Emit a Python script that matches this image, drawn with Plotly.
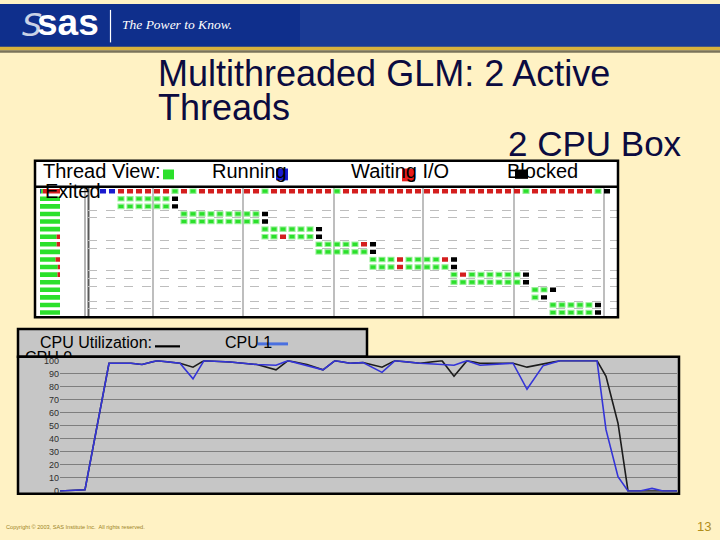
import plotly.graph_objects as go

W, H = 720, 540
FONT = "Liberation Sans, Arial, sans-serif"

# ---------------- data ----------------
# Thread view: one string of state codes per thread, one code per time slot,
# beginning at the slot given in thread_start.
# G = Running, B = Waiting I/O, R = Blocked, K = Exited
thread_start = [0, 2, 2, 9, 9, 18, 18, 24, 24, 30, 30, 39, 39, 48, 48, 50, 50]
thread_states = [
    "BB" "RRRRRR" "G" "R" "G" "RRRRRRR" "G" "RRRRRRR" "G"
    "RRRRRRRRRRRRRRRRRRRR" "G" "RRRRRRR" "G" "K",
    "GGGGGGK",
    "GGGGGGK",
    "GGGGGGGGGK",
    "GGGGGGGGGK",
    "GGGGGGK",
    "GGRGGGK",
    "GGGGGRK",
    "GGGGGGK",
    "GGGRGGGGRK",
    "GGGRGGGGGK",
    "GRGGGGGGK",
    "GGGGGGGGK",
    "GGK",
    "GK",
    "GGGGGK",
    "GGGGGK",
]
state_names = {"G": "Running", "B": "Waiting I/O", "R": "Blocked", "K": "Exited"}
state_colors = {"G": "#2BE02B", "B": "#1A1ACF", "R": "#D41E1E", "K": "#000000"}

# CPU utilization (%) over elapsed time
cpu_time = [0, 25, 49, 71, 82, 97, 120, 133, 144, 170, 197, 216, 228, 247, 263, 275,
            290, 303, 322, 335, 360, 382, 394, 407, 420, 453, 467, 483, 500, 537,
            546, 558, 568, 580, 592, 603, 617]
cpu0 = [0, 1, 98, 98, 97, 100, 98, 95, 100, 99, 97, 93, 100, 97, 93, 100, 98, 98.5,
        95, 100, 98, 100, 88, 100, 98, 98, 95, 97.5, 100, 100, 88, 52, 0, 0, 0, 0, 0]
cpu1 = [0, 1, 98, 98, 97, 100, 98, 86, 100, 99, 97, 96.5, 100, 96, 93, 100, 98, 98.5,
        91, 100, 98, 97, 96.5, 100, 96.5, 98, 78, 96, 100, 100, 47, 11, 0, 0, 2, 0, 0]
cpu_ticks = [0, 10, 20, 30, 40, 50, 60, 70, 80, 90, 100]

title_lines = ["Multithreaded GLM: 2 Active", "Threads"]
subtitle = "2 CPU Box"


def fx(x):
    return x / W


def fy(y):
    return 1 - y / H


fig = go.Figure()

# ---------------- thread view marks ----------------
mark_len = 0.67
for code in ["G", "R", "B", "K"]:
    rows, slots = [], []
    for r, (s0, st) in enumerate(zip(thread_start, thread_states)):
        for i, c in enumerate(st):
            if c == code:
                rows.append(r)
                slots.append(s0 + i)
    line = dict(color="rgba(150,240,150,0.85)", width=1.2) if code == "G" else dict(width=0)
    fig.add_trace(go.Bar(
        orientation="h", y=rows, x=[mark_len] * len(rows),
        base=[s - mark_len / 2 for s in slots], width=0.58,
        marker=dict(color=state_colors[code], line=line),
        name=state_names[code], showlegend=False, hoverinfo="skip",
        xaxis="x", yaxis="y"))

# ---------------- summary bars (left panel) ----------------
order = ["B", "G", "R"]
fracs = {c: [] for c in order}
for st in thread_states:
    total = sum(st.count(c) for c in order)
    for c in order:
        fracs[c].append(st.count(c) / total)
cum = [0.0] * len(thread_states)
for c in order:
    fig.add_trace(go.Bar(
        orientation="h", y=list(range(len(thread_states))), x=fracs[c], base=cum[:],
        width=0.6, marker=dict(color=state_colors[c], line=dict(width=0)),
        showlegend=False, hoverinfo="skip", xaxis="x3", yaxis="y3"))
    cum = [a + b for a, b in zip(cum, fracs[c])]

# ---------------- CPU utilization ----------------
fig.add_trace(go.Scatter(x=cpu_time, y=cpu0, mode="lines", name="CPU 0",
                         line=dict(color="#1C1C1C", width=1.6),
                         showlegend=False, xaxis="x2", yaxis="y2"))
fig.add_trace(go.Scatter(x=cpu_time, y=cpu1, mode="lines", name="CPU 1",
                         line=dict(color="#3434D8", width=1.6),
                         showlegend=False, xaxis="x2", yaxis="y2"))

# wrapped legend label, clipped where the chart frame starts
fig.add_trace(go.Scatter(x=[25], y=[368], mode="text", text=["CPU 0"],
                         textposition="top right", cliponaxis=True,
                         textfont=dict(size=16, color="black", family=FONT),
                         showlegend=False, hoverinfo="skip", xaxis="x4", yaxis="y4"))

# ---------------- shapes ----------------
shapes = []


def rect(x0, y0, x1, y1, fill=None, line_color=None, lw=0, layer="below"):
    shapes.append(dict(type="rect", xref="paper", yref="paper",
                       x0=fx(x0), x1=fx(x1), y0=fy(y1), y1=fy(y0),
                       fillcolor=fill if fill else "rgba(0,0,0,0)",
                       line=dict(color=line_color if line_color else "rgba(0,0,0,0)", width=lw),
                       layer=layer))


def seg(x0, y0, x1, y1, color, lw, layer="above"):
    shapes.append(dict(type="line", xref="paper", yref="paper",
                       x0=fx(x0), x1=fx(x1), y0=fy(y0), y1=fy(y1),
                       line=dict(color=color, width=lw), layer=layer))


# header band
rect(0, 0, 720, 44, fill="#0F2F8C")
rect(300, 0, 720, 44, fill="rgba(60,90,170,0.25)")
rect(0, 43.5, 720, 47, fill="#D9B23C")
rect(0, 47, 720, 49.5, fill="#7A735A")
seg(110.5, 6, 110.5, 39, "white", 1.2)

# thread panel
rect(35, 159, 618, 318, fill="white")
seg(85, 186, 85, 317, "#B4B4B4", 2, layer="below")
seg(88.5, 186, 88.5, 317, "#5A5A5A", 2, layer="below")
rect(35, 159, 618, 318, line_color="black", lw=2.5, layer="above")
seg(35, 185.5, 618, 185.5, "black", 2.5)

# legend squares in thread header
rect(163, 168, 174, 178, fill=state_colors["G"], layer="above")
rect(276, 167, 288, 179, fill=state_colors["B"], layer="above")
rect(402, 167, 415, 180, fill="#E81C1C", layer="above")
rect(515, 168, 528, 177.5, fill="black", layer="above")

# CPU panel
rect(18, 330, 367, 358, fill="#C6C6C6", line_color="black", lw=2.5)
rect(18, 358, 679, 497, fill="#C6C6C6")
rect(18, 358, 679, 497, line_color="black", lw=2.5, layer="above")
seg(155, 347.5, 180, 347.5, "black", 2.2)
seg(258, 345, 288, 345, "#4A70E0", 3)

# ---------------- annotations ----------------
ann = []


def text(x, y, s, size, color="black", xanchor="left", family=FONT, **kw):
    ann.append(dict(x=fx(x), y=fy(y), xref="paper", yref="paper", text=s,
                    showarrow=False, xanchor=xanchor, yanchor="middle",
                    font=dict(size=size, color=color, family=family), **kw))


# logo
text(20, 21, "<i>S</i>", 32, color="#C9D2E6", family="DejaVu Sans, sans-serif")
text(35, 19, "<b>sas</b>", 37, color="white")
text(120, 21, "<i>The Power to Know.</i>", 13.5, color="white",
     family="Liberation Serif, Times New Roman, serif")

# titles
navy = "#0B0B40"
text(156, 71, title_lines[0], 36, color=navy)
text(156, 105, title_lines[1], 36, color=navy)
text(684, 142, subtitle, 35, color=navy, xanchor="right")

# thread legend
text(41, 170, "Thread View:", 20)
text(210, 170, state_names["G"], 20)
text(349, 170, state_names["B"], 20)
text(505, 170, state_names["R"], 20)
text(43, 190, state_names["K"], 20)

# cpu legend
text(38, 344, "CPU Utilization:", 16)
text(223, 344, "CPU 1", 16)

# footer
text(4, 531, "Copyright \u00a9 2003, SAS Institute Inc.  All rights reserved.", 5.6,
     color="#9C8426")
text(713, 530, "13", 13, color="#B08E1C", xanchor="right")

# ---------------- layout ----------------
k0 = (88 - 103) / 9
k1 = (617 - 103) / 9
r_top = (186 - 190) / 7.7
r_bot = (317 - 190) / 7.7

fig.update_layout(
    width=W, height=H, autosize=False,
    margin=dict(l=0, r=0, t=0, b=0),
    paper_bgcolor="#FFF2C4", plot_bgcolor="rgba(0,0,0,0)",
    barmode="overlay", showlegend=False,
    shapes=shapes, annotations=ann,
    xaxis=dict(domain=[fx(88), fx(617)], range=[k0, k1], anchor="y",
               tickvals=[5.6, 15.6, 25.7, 35.6, 45.7, 55.7], showticklabels=False,
               showgrid=True, gridcolor="#BEBEBE", gridwidth=1.5,
               zeroline=False, showline=False, ticks=""),
    yaxis=dict(domain=[fy(317), fy(186)], range=[r_bot, r_top], anchor="x",
               tickvals=[2.5, 3.5, 6.5, 7.5, 10.5, 11.5, 12.5, 14.5, 15.5],
               showticklabels=False, showgrid=True, gridcolor="#BDBDBD",
               griddash="dash", gridwidth=1, zeroline=False, showline=False, ticks=""),
    xaxis3=dict(domain=[fx(37), fx(84)], range=[-0.15, 2.2], anchor="y3",
                visible=False),
    yaxis3=dict(domain=[fy(317), fy(186)], range=[r_bot, r_top], anchor="x3",
                visible=False),
    xaxis2=dict(domain=[fx(60), fx(677)], range=[0, 617], anchor="y2",
                showgrid=False, showticklabels=False, zeroline=False, showline=False,
                ticks=""),
    yaxis2=dict(domain=[fy(495), fy(361.5)], range=[-0.53, 100.38], anchor="x2",
                tickvals=cpu_ticks, ticktext=[str(v) for v in cpu_ticks],
                tickfont=dict(size=9, color="#2E2E2E", family=FONT),
                showgrid=True, gridcolor="#7E7E7E", gridwidth=1,
                zeroline=False, showline=False, ticks=""),
    # overlay axes in pixel units, ending at the top of the CPU chart frame
    xaxis4=dict(domain=[0, 1], range=[0, W], anchor="y4", visible=False),
    yaxis4=dict(domain=[fy(358.5), 1], range=[358.5, 0], anchor="x4", visible=False),
)

fig.write_html("out.html", config={"displayModeBar": False},
               post_script="document.body.style.margin='0';")
